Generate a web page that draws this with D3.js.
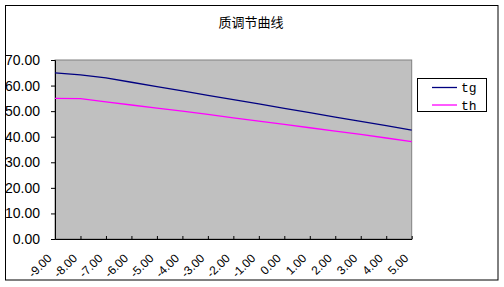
<!DOCTYPE html>
<html>
<head>
<meta charset="utf-8">
<script src="https://cdn.jsdelivr.net/npm/d3@7"></script>
<style>
  html, body { margin: 0; padding: 0; background: #fff; }
  svg { display: block; }
</style>
</head>
<body>
<div id="chart"></div>
<script>
const categories = ['-9.00', '-8.00', '-7.00', '-6.00', '-5.00', '-4.00', '-3.00', '-2.00',
  '-1.00', '0.00', '1.00', '2.00', '3.00', '4.00', '5.00'];
const tg = [65.0, 64.2, 63.0, 61.3, 59.6, 57.9, 56.2, 54.5, 52.8, 51.1, 49.4, 47.7, 46.0, 44.3, 42.6];
const th = [55.0, 54.9, 53.6, 52.4, 51.2, 50.0, 48.7, 47.4, 46.1, 44.8, 43.5, 42.2, 40.9, 39.5, 38.1];
const yTicks = [0, 10, 20, 30, 40, 50, 60, 70];
const seriesNames = ['tg', 'th'];
const title = '质调节曲线';

const W = 504, H = 287;
const plot = { left: 55, top: 60, right: 411.7, bottom: 239 };

const svg = d3.select('#chart').append('svg')
  .attr('width', W)
  .attr('height', H);

// chart frame
svg.append('rect')
  .attr('x', 5.5).attr('y', 5.5)
  .attr('width', 492.5).attr('height', 274.5)
  .attr('fill', '#fff')
  .attr('stroke', '#000')
  .attr('stroke-width', 1);

const x = d3.scalePoint().domain(categories).range([plot.left, plot.right]);
const y = d3.scaleLinear().domain([0, 70]).range([plot.bottom, plot.top]);

// plot area
svg.append('rect')
  .attr('x', plot.left).attr('y', plot.top)
  .attr('width', plot.right - plot.left).attr('height', plot.bottom - plot.top)
  .attr('fill', '#c0c0c0')
  .attr('stroke', '#808080')
  .attr('stroke-width', 1);

// y axis
const yAxis = svg.append('g')
  .attr('transform', `translate(${plot.left},0)`)
  .call(d3.axisLeft(y).tickValues(yTicks).tickFormat(d3.format('.2f')).tickSize(4).tickPadding(11));
yAxis.select('.domain').attr('stroke', '#000');
yAxis.selectAll('text')
  .attr('font-family', "'Liberation Sans', Arial, sans-serif")
  .attr('font-size', '14px')
  .attr('fill', '#000');

// x axis
const xAxis = svg.append('g')
  .attr('transform', `translate(0,${plot.bottom})`)
  .call(d3.axisBottom(x).tickSizeInner(-3).tickSizeOuter(0));
xAxis.select('.domain').attr('stroke', '#000');
xAxis.selectAll('.tick text')
  .attr('font-family', "'Liberation Sans', Arial, sans-serif")
  .attr('font-size', '12px')
  .attr('fill', '#000')
  .attr('text-anchor', 'end')
  .attr('y', 0)
  .attr('dy', '0.35em')
  .attr('transform', 'translate(-6,17) rotate(-45)');

// lines
const line = d3.line()
  .x((d, i) => x(categories[i]))
  .y((d) => y(d));

const colors = { tg: '#000080', th: '#ff00ff' };
const seriesData = { tg: tg, th: th };

seriesNames.forEach((name) => {
  svg.append('path')
    .datum(seriesData[name])
    .attr('fill', 'none')
    .attr('stroke', colors[name])
    .attr('stroke-width', 1.3)
    .attr('d', line);
});

// title
svg.append('text')
  .attr('x', 251)
  .attr('y', 27)
  .attr('text-anchor', 'middle')
  .attr('font-family', "'Noto Sans CJK SC', sans-serif")
  .attr('font-size', '13px')
  .attr('fill', '#000')
  .text(title);

// legend
const legend = svg.append('g');
legend.append('rect')
  .attr('x', 417.5).attr('y', 78.5)
  .attr('width', 69).attr('height', 33)
  .attr('fill', '#fff')
  .attr('stroke', '#000')
  .attr('stroke-width', 1);

seriesNames.forEach((name, i) => {
  const ly = 87.5 + i * 17.5;
  legend.append('line')
    .attr('x1', 432).attr('x2', 457)
    .attr('y1', ly).attr('y2', ly)
    .attr('stroke', colors[name])
    .attr('stroke-width', 1.3);
  legend.append('text')
    .attr('x', 461)
    .attr('y', ly)
    .attr('dy', '0.35em')
    .attr('font-family', "'Liberation Mono', monospace")
    .attr('font-size', '13px')
    .attr('fill', '#000')
    .text(name);
});
</script>
</body>
</html>
